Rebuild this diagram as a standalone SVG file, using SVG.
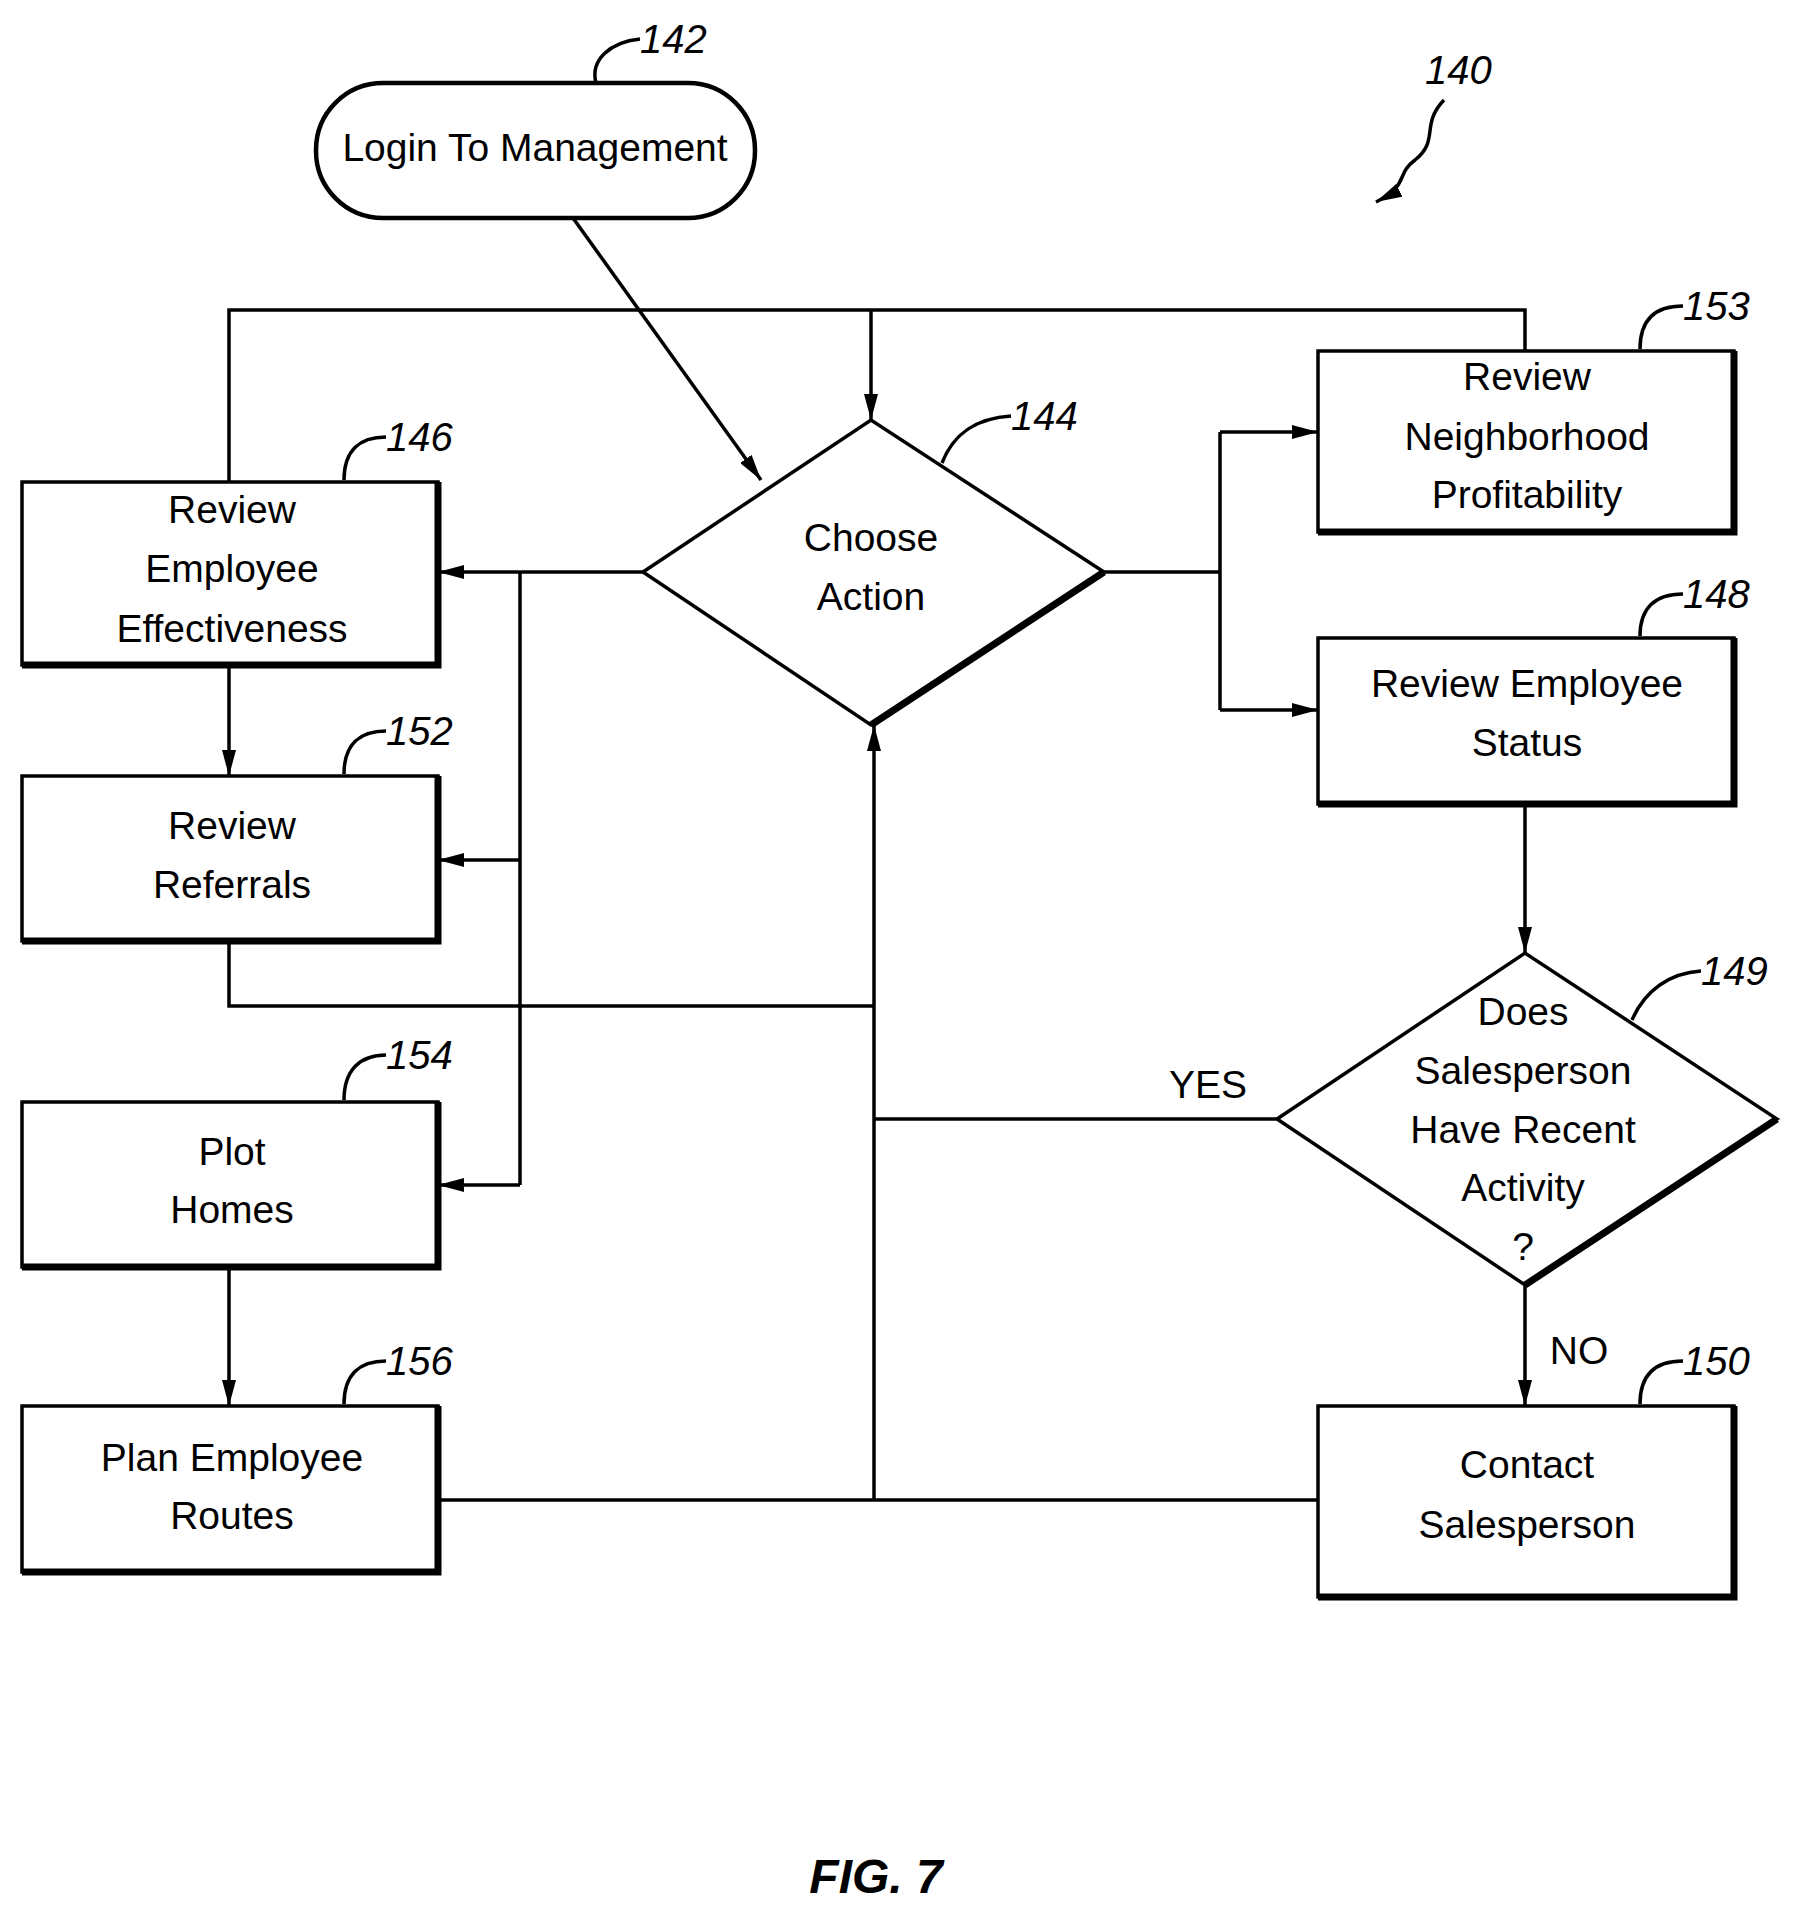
<svg xmlns="http://www.w3.org/2000/svg" width="1799" height="1918" viewBox="0 0 1799 1918">
<style>
.s{fill:none;stroke:#000;stroke-width:3.5}
.t{fill:none;stroke:#000;stroke-width:7}
.b{fill:#fff;stroke:#000;stroke-width:3.5}
text{font-family:"Liberation Sans",Arial,sans-serif;font-size:39px;text-anchor:middle;dominant-baseline:central;fill:#000}
.r{font-style:italic;font-size:40px;text-anchor:start}
</style>
<defs><marker id="a" viewBox="0 0 26 14" refX="26" refY="7" markerWidth="26" markerHeight="14" markerUnits="userSpaceOnUse" orient="auto"><path d="M0,0 L26,7 L0,14 Z"/></marker></defs>
<rect width="1799" height="1918" fill="#fff"/>
<g id="connectors" class="s">
<path d="M573,218 L761,480" marker-end="url(#a)"/>
<path d="M229,482 V310 H1525 V351"/>
<path d="M871,310 V420" marker-end="url(#a)"/>
<path d="M643,572 H438" marker-end="url(#a)"/>
<path d="M520,572 V1185"/>
<path d="M520,860 H438" marker-end="url(#a)"/>
<path d="M520,1185 H438" marker-end="url(#a)"/>
<path d="M229,665 V776" marker-end="url(#a)"/>
<path d="M229,941 V1006 H874"/>
<path d="M874,1500 V725" marker-end="url(#a)"/>
<path d="M1277,1119 H874"/>
<path d="M438,1500 H1318"/>
<path d="M229,1267 V1406" marker-end="url(#a)"/>
<path d="M1104,572 H1220 M1220,432 V710"/>
<path d="M1220,432 H1318" marker-end="url(#a)"/>
<path d="M1220,710 H1318" marker-end="url(#a)"/>
<path d="M1525,804 V953" marker-end="url(#a)"/>
<path d="M1525,1285 V1406" marker-end="url(#a)"/>
<path d="M1444,100 C1420,125 1440,140 1415,160 C1395,175 1410,185 1376,202" marker-end="url(#a)"/>
</g>
<text x="1208" y="1084">YES</text>
<text x="1579" y="1350">NO</text>
<g id="n142"><rect class="b" x="316" y="83" width="439" height="135" rx="67" style="stroke-width:4.5"/><text x="535" y="147">Login To Management</text>
<path class="s" d="M596,83 C590,60 610,42 640,39"/><text class="r" x="640" y="39">142</text></g>
<g id="n144"><path class="b" d="M643,572 L871,420 L1104,572 L871,725 Z"/><path class="t" d="M1104,572 L871,725"/><text x="871" y="537">Choose</text><text x="871" y="596">Action</text>
<path class="s" d="M942,463 C955,430 980,418 1011,416"/><text class="r" x="1011" y="416">144</text></g>
<g id="n146"><rect class="b" x="22" y="482" width="416" height="183"/><path class="t" d="M22,665 H438 V482"/><text x="232" y="509">Review</text><text x="232" y="568">Employee</text><text x="232" y="628">Effectiveness</text>
<path class="s" d="M344,480 C344,450 360,437 386,437"/><text class="r" x="386" y="437">146</text></g>
<g id="n152"><rect class="b" x="22" y="776" width="416" height="165"/><path class="t" d="M22,941 H438 V776"/><text x="232" y="825">Review</text><text x="232" y="884">Referrals</text>
<path class="s" d="M344,774 C344,744 360,731 386,731"/><text class="r" x="386" y="731">152</text></g>
<g id="n154"><rect class="b" x="22" y="1102" width="416" height="165"/><path class="t" d="M22,1267 H438 V1102"/><text x="232" y="1151">Plot</text><text x="232" y="1209">Homes</text>
<path class="s" d="M344,1100 C344,1070 360,1055 386,1055"/><text class="r" x="386" y="1055">154</text></g>
<g id="n156"><rect class="b" x="22" y="1406" width="416" height="166"/><path class="t" d="M22,1572 H438 V1406"/><text x="232" y="1457">Plan Employee</text><text x="232" y="1515">Routes</text>
<path class="s" d="M344,1404 C344,1374 360,1361 386,1361"/><text class="r" x="386" y="1361">156</text></g>
<g id="n153"><rect class="b" x="1318" y="351" width="416" height="181"/><path class="t" d="M1318,532 H1734 V351"/><text x="1527" y="376">Review</text><text x="1527" y="436">Neighborhood</text><text x="1527" y="494">Profitability</text>
<path class="s" d="M1640,349 C1640,320 1655,306 1683,306"/><text class="r" x="1683" y="306">153</text></g>
<g id="n148"><rect class="b" x="1318" y="638" width="416" height="166"/><path class="t" d="M1318,804 H1734 V638"/><text x="1527" y="683">Review Employee</text><text x="1527" y="742">Status</text>
<path class="s" d="M1640,636 C1640,608 1655,594 1683,594"/><text class="r" x="1683" y="594">148</text></g>
<g id="n149"><path class="b" d="M1277,1119 L1525,953 L1777,1119 L1525,1285 Z"/><path class="t" d="M1777,1119 L1525,1285"/><text x="1523" y="1011">Does</text><text x="1523" y="1070">Salesperson</text><text x="1523" y="1129">Have Recent</text><text x="1523" y="1187">Activity</text><text x="1523" y="1246">?</text>
<path class="s" d="M1632,1020 C1645,990 1670,973 1701,971"/><text class="r" x="1701" y="971">149</text></g>
<g id="n150"><rect class="b" x="1318" y="1406" width="416" height="191"/><path class="t" d="M1318,1597 H1734 V1406"/><text x="1527" y="1464">Contact</text><text x="1527" y="1524">Salesperson</text>
<path class="s" d="M1640,1404 C1640,1375 1655,1361 1683,1361"/><text class="r" x="1683" y="1361">150</text></g>
<text class="r" x="1425" y="70">140</text>
<text x="876" y="1876" style="font-weight:bold;font-style:italic;font-size:48px">FIG. 7</text>
</svg>
